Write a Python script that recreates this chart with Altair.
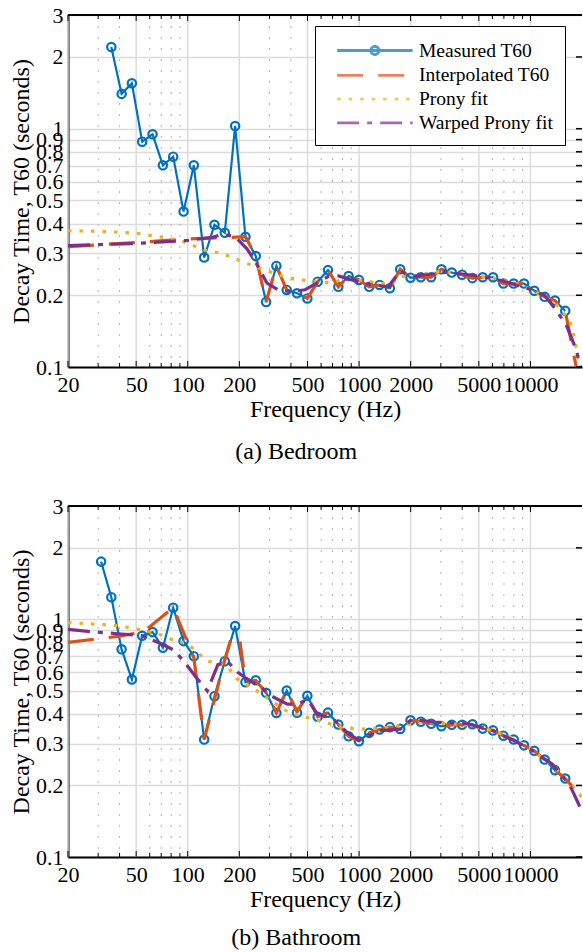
import altair as alt
import pandas as pd

SERIES = ["Measured T60", "Interpolated T60", "Prony fit", "Warped Prony fit"]
COLORS = ["#0072BD", "#D95319", "#EDB120", "#7E2F8E"]
DASHES = [[1, 0], [26, 15], [3.5, 8], [22, 8, 5, 8]]
PATHS = [
    "M-3.55,0H3.55M0.38,0A0.38,0.38,0,1,1,-0.38,0A0.38,0.38,0,1,1,0.38,0",
    "M-3.55,0H3.55",
    "M-3.55,0H3.55",
    "M-3.55,0H3.55",
]
FONT = "Liberation Serif"

# ---------------- Bedroom ----------------
bed_meas_f = [35.8, 41.1, 47.2, 54.2, 62.3, 71.6, 82.2, 94.5, 108.5, 124.7, 143.2, 164.5,
              189.0, 217.1, 249.4, 286.5, 329.1, 378.1, 434.3, 498.9, 573.1, 658.3, 756.3,
              868.7, 997.9, 1146.3, 1316.8, 1512.6, 1737.6, 1996.0, 2292.8, 2633.8, 3025.5,
              3475.4, 3992.3, 4586.0, 5268.0, 6051.5, 6951.5, 7985.3, 9172.8, 10536.9,
              12103.9, 13903.9, 15971.6]
bed_meas_v = [2.20, 1.40, 1.55, 0.882, 0.947, 0.702, 0.763, 0.449, 0.702, 0.288, 0.395, 0.366,
              1.026, 0.352, 0.292, 0.1875, 0.2655, 0.2106, 0.204, 0.194, 0.228, 0.255, 0.217,
              0.241, 0.232, 0.217, 0.221, 0.214, 0.257, 0.237, 0.238, 0.238, 0.257,
              0.249, 0.244, 0.236, 0.238, 0.238, 0.224, 0.224, 0.224, 0.209,
              0.197, 0.190, 0.172]
bed_interp_f = [20, 50, 80, 120, 180, 217.1, 249.4, 286.5, 329.1, 378.1, 434.3, 498.9, 573.1,
                658.3, 756.3, 868.7, 997.9, 1146.3, 1316.8, 1512.6, 1737.6, 1996.0, 2292.8,
                2633.8, 3025.5, 3475.4, 3992.3, 4586.0, 5268.0, 6051.5, 6951.5, 7985.3,
                9172.8, 10536.9, 12103.9, 13903.9, 15971.6, 20000]
bed_interp_v = [0.32, 0.333, 0.341, 0.347, 0.35, 0.352, 0.292, 0.1875, 0.2655, 0.2106, 0.204,
                0.194, 0.228, 0.255, 0.217, 0.241, 0.232, 0.217, 0.221, 0.214, 0.257, 0.237,
                0.238, 0.238, 0.257, 0.249, 0.244, 0.236, 0.238, 0.238, 0.224, 0.224,
                0.224, 0.209, 0.197, 0.190, 0.172, 0.075]
bed_prony_f = [20, 31.6, 50.6, 67.8, 90.6, 106, 124, 158.6, 207, 283, 387, 506, 692, 830, 1000,
               1300, 1500, 1750, 2000, 2500, 3000, 4000, 5000, 6000, 7000, 8000, 10000, 12000,
               14000, 16950, 18200, 20000]
bed_prony_v = [0.373, 0.371, 0.364, 0.352, 0.339, 0.325, 0.31, 0.30, 0.277, 0.255, 0.236, 0.23,
               0.225, 0.235, 0.232, 0.225, 0.222, 0.24, 0.24, 0.247, 0.252, 0.245, 0.24, 0.237,
               0.23, 0.226, 0.212, 0.198, 0.185, 0.157, 0.13, 0.08]
bed_warp_f = [20, 50, 100, 140, 160, 189, 221, 248, 290, 339, 405, 484, 567, 662, 757, 905,
              1185, 1480, 1733, 2020, 2650, 3160, 4130, 5950, 7750, 10100, 12100, 13900, 16200,
              18500, 20000]
bed_warp_v = [0.323, 0.33, 0.34, 0.35, 0.361, 0.352, 0.314, 0.277, 0.225, 0.21, 0.207, 0.211,
              0.225, 0.24, 0.241, 0.232, 0.221, 0.217, 0.253, 0.24, 0.245, 0.25, 0.245, 0.236,
              0.224, 0.211, 0.20, 0.176, 0.15, 0.118, 0.095]

# ---------------- Bathroom ----------------
bath_meas_f = [31.2, 35.8, 41.1, 47.2, 54.2, 62.3, 71.6, 82.2, 94.5, 108.5, 124.7, 143.2, 164.5,
               189.0, 217.1, 249.4, 286.5, 329.1, 378.1, 434.3, 498.9, 573.1, 658.3, 756.3,
               868.7, 997.9, 1146.3, 1316.8, 1512.6, 1737.6, 1996.0, 2292.8, 2633.8, 3025.5,
               3475.4, 3992.3, 4586.0, 5268.0, 6051.5, 6951.5, 7985.3, 9172.8, 10536.9,
               12103.9, 13903.9, 15971.6]
bath_meas_v = [1.75, 1.24, 0.748, 0.558, 0.853, 0.884, 0.760, 1.12, 0.81, 0.70, 0.312, 0.475,
               0.667, 0.937, 0.544, 0.554, 0.491, 0.404, 0.502, 0.405, 0.477, 0.389, 0.405,
               0.361, 0.322, 0.307, 0.333, 0.344, 0.352, 0.346, 0.376, 0.371, 0.364, 0.355,
               0.36, 0.36, 0.362, 0.347, 0.341, 0.324, 0.312, 0.295, 0.280, 0.257, 0.232, 0.214]
bath_interp_f = [20, 40, 55, 82.2, 94.5, 108.5, 124.7, 143.2, 164.5, 180, 200, 217.1, 249.4,
                 286.5, 329.1, 378.1, 434.3, 498.9, 573.1, 658.3, 756.3, 868.7, 997.9, 1146.3,
                 1316.8, 1512.6, 1737.6, 1996.0, 2292.8, 2633.8, 3025.5, 3475.4, 3992.3, 4586.0,
                 5268.0, 6051.5, 6951.5, 7985.3, 9172.8, 10536.9, 12103.9, 13903.9, 15971.6,
                 20000]
bath_interp_v = [0.80, 0.85, 0.885, 1.12, 0.88, 0.69, 0.312, 0.46, 0.68, 0.84, 0.84, 0.55, 0.554,
                 0.491, 0.404, 0.502, 0.41, 0.477, 0.389, 0.405, 0.361, 0.322, 0.307, 0.333,
                 0.344, 0.352, 0.346, 0.376, 0.371, 0.364, 0.355, 0.36, 0.36, 0.362,
                 0.347, 0.341, 0.324, 0.312, 0.295, 0.280, 0.257, 0.232, 0.214, 0.178]
bath_prony_f = [20, 40, 55, 70, 85, 100, 114, 131, 170, 195, 213, 265, 300, 390, 476, 620, 800,
                1000, 1500, 2200, 4300, 6000, 8000, 10300, 13600, 17000, 20000]
bath_prony_v = [0.97, 0.94, 0.90, 0.86, 0.81, 0.79, 0.724, 0.667, 0.635, 0.56, 0.54, 0.49, 0.46,
                0.405, 0.39, 0.37, 0.35, 0.345, 0.35, 0.37, 0.36, 0.34, 0.315, 0.28, 0.242,
                0.205, 0.178]
bath_warp_f = [20, 26.2, 39, 53.5, 70, 83.7, 100, 112, 130, 150, 170, 195, 223, 266, 318, 381,
               436, 500, 570, 710, 870, 1000, 1290, 1740, 2040, 2700, 4230, 6050, 7950, 10300,
               13500, 17000, 18900, 20000]
bath_warp_v = [0.908, 0.89, 0.87, 0.855, 0.79, 0.74, 0.635, 0.57, 0.50, 0.645, 0.667, 0.60,
               0.56, 0.52, 0.47, 0.44, 0.44, 0.46, 0.40, 0.38, 0.33, 0.31, 0.34, 0.345, 0.38,
               0.37, 0.365, 0.34, 0.31, 0.28, 0.245, 0.20, 0.17, 0.155]

# ---------------- axes / grid ----------------
x_major = [20, 50, 100, 200, 500, 1000, 2000, 5000, 10000]
x_minor = [30, 40, 60, 70, 80, 90, 300, 400, 600, 700, 800, 900, 3000, 4000, 6000, 7000,
           8000, 9000]
y_ticks = [0.1, 0.2, 0.3, 0.4, 0.5, 0.6, 0.7, 0.8, 0.9, 1, 2, 3]

W = 514


def panel(mf, mv, inf_, inv, pf, pv, wf, wv, caption, H, cap_offset):
    rows = []
    for name, fs, vs in [(SERIES[0], mf, mv), (SERIES[1], inf_, inv),
                         (SERIES[2], pf, pv), (SERIES[3], wf, wv)]:
        for f, v in zip(fs, vs):
            rows.append({"series": name, "f": f, "v": v})
    df = pd.DataFrame(rows)

    xs = alt.Scale(type="log", domain=[20, 20000], nice=False)
    ys = alt.Scale(type="log", domain=[0.1, 3], nice=False)
    xaxis = alt.Axis(values=x_major, format="d", grid=False, ticks=False, domain=True,
                     domainColor="black", domainWidth=2, labelFont=FONT, labelFontSize=22,
                     labelColor="black", labelPadding=7, labelOverlap=False, labelFlush=False,
                     labelBound=False, title="Frequency (Hz)", titleFont=FONT,
                     titleFontSize=24, titleFontWeight="normal", titleColor="black",
                     titlePadding=2)
    yaxis = alt.Axis(values=y_ticks, format="~g", grid=True, gridColor="#dcdcdc", gridWidth=1.5,
                     ticks=False, domain=True, domainColor="black", domainWidth=2,
                     labelFont=FONT, labelFontSize=22, labelColor="black", labelPadding=5,
                     labelOverlap=False, labelFlush=False, labelBound=False,
                     title="Decay Time, T60 (seconds)", titleFont=FONT, titleFontSize=24,
                     titleFontWeight="normal", titleColor="black", titlePadding=2)
    X = alt.X("f:Q", scale=xs, axis=xaxis)
    Y = alt.Y("v:Q", scale=ys, axis=yaxis)

    leg = alt.Legend(title=None, orient="none", legendX=247, legendY=11, fillColor="white",
                     strokeColor="black", padding=12, labelFont=FONT, labelFontSize=19.5,
                     labelColor="black", symbolSize=451.6, symbolStrokeWidth=2.8,
                     rowPadding=1.8, symbolOffset=35.4, labelOffset=31.6)
    color = alt.Color("series:N", scale=alt.Scale(domain=SERIES, range=COLORS), legend=leg)
    dash = alt.StrokeDash("series:N", scale=alt.Scale(domain=SERIES, range=DASHES), legend=leg)
    shape = alt.Shape("series:N", scale=alt.Scale(domain=SERIES, range=PATHS), legend=leg)

    major = alt.Chart(pd.DataFrame({"f": x_major})).mark_rule(
        color="#dcdcdc", strokeWidth=1.5).encode(x=X)
    minor = alt.Chart(pd.DataFrame({"f": x_minor})).mark_rule(
        color="#b4b4b4", strokeWidth=1, strokeDash=[2, 9]).encode(x=X)

    def series_line(i, width):
        return alt.Chart(df).transform_filter(
            alt.datum.series == SERIES[i]).mark_line(strokeWidth=width, clip=True).encode(
            x=X, y=Y, color=color, strokeDash=dash)

    meas_pts = alt.Chart(df).transform_filter(alt.datum.series == SERIES[0]).mark_point(
        filled=False, size=70, strokeWidth=2.2, color=COLORS[0], opacity=1, clip=True).encode(
        x=X, y=Y)

    legend_layer = alt.Chart(pd.DataFrame({"series": SERIES, "f": [None] * 4,
                                           "v": [None] * 4})).mark_point(
        filled=False, strokeWidth=2.8).encode(x=X, y=Y, color=color, strokeDash=dash,
                                              shape=shape)

    top_ticks_major = alt.Chart(pd.DataFrame({"f": x_major})).mark_rule(
        color="black", strokeWidth=1).encode(x=X, y=alt.value(0), y2=alt.value(6))
    top_ticks_minor = alt.Chart(pd.DataFrame({"f": x_minor})).mark_rule(
        color="black", strokeWidth=1).encode(x=X, y=alt.value(0), y2=alt.value(4))
    bot_ticks_major = alt.Chart(pd.DataFrame({"f": x_major})).mark_rule(
        color="black", strokeWidth=1).encode(x=X, y=alt.value(H), y2=alt.value(H - 6))
    bot_ticks_minor = alt.Chart(pd.DataFrame({"f": x_minor})).mark_rule(
        color="black", strokeWidth=1).encode(x=X, y=alt.value(H), y2=alt.value(H - 4))
    right_ticks = alt.Chart(pd.DataFrame({"v": y_ticks})).mark_rule(
        color="black", strokeWidth=1.5).encode(y=Y, x=alt.value(W - 6), x2=alt.value(W))
    top_border = alt.Chart(pd.DataFrame({"v": [3]})).mark_rule(
        color="black", strokeWidth=2).encode(y=Y, x=alt.value(0), x2=alt.value(W))

    return alt.layer(
        major, minor,
        series_line(0, 2.2), meas_pts, series_line(1, 3.2), series_line(2, 3.2),
        series_line(3, 3.2), legend_layer,
        top_ticks_major, top_ticks_minor, bot_ticks_major, bot_ticks_minor, right_ticks,
        top_border,
    ).properties(
        width=W, height=H,
        title=alt.TitleParams(caption, orient="bottom", anchor="middle", frame="bounds",
                              font=FONT, fontSize=24, fontWeight="normal", color="black",
                              offset=cap_offset),
    )


top = panel(bed_meas_f, bed_meas_v, bed_interp_f, bed_interp_v, bed_prony_f, bed_prony_v,
            bed_warp_f, bed_warp_v, "(a) Bedroom", 352, 19)
bottom = panel(bath_meas_f, bath_meas_v, bath_interp_f, bath_interp_v, bath_prony_f,
               bath_prony_v, bath_warp_f, bath_warp_v, "(b) Bathroom", 351, 15)

chart = alt.vconcat(top, bottom, spacing=31).properties(
    padding={"left": 9, "top": 4, "right": 0, "bottom": 0},
    background="white",
).configure_view(stroke=None)

chart.save("out.html", embed_options={"renderer": "svg", "actions": False})
